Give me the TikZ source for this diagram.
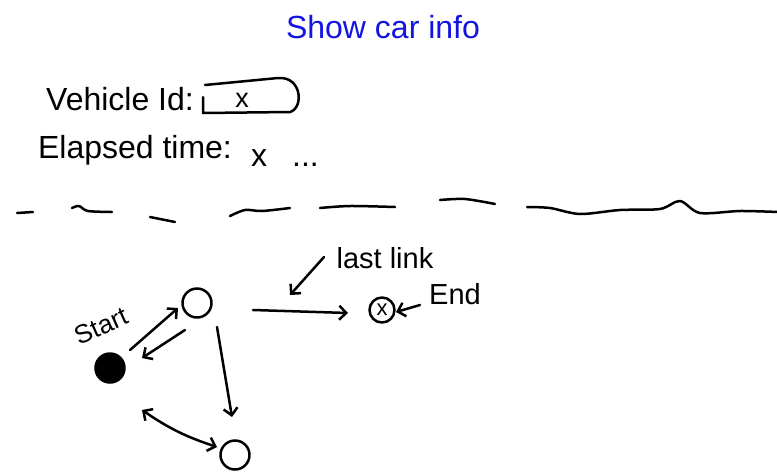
\documentclass[tikz,border=0pt]{standalone}
\usepackage{fontspec}
\setmainfont{Liberation Sans}
\usetikzlibrary{arrows.meta,calc}
\definecolor{penblue}{RGB}{20,20,225}
\begin{document}
\begin{tikzpicture}[x=1pt,y=-1pt,line cap=round,line join=round,
  pen/.style={line width=2.5pt},
  arr/.style={pen,-{Straight Barb[length=7pt,width=14pt]}},
  darr/.style={pen,{Straight Barb[length=7pt,width=14pt]}-{Straight Barb[length=7pt,width=14pt]}},
  state/.style={circle,draw,pen,minimum size=29pt,inner sep=0pt},
  big/.style={inner sep=0pt,font=\fontsize{32}{36}\selectfont},
  lbl/.style={inner sep=0pt,font=\fontsize{29}{32}\selectfont}]
\useasboundingbox (0,0) rectangle (777,472);

% header texts
\node[big,text=penblue] (title) at (383,27) {Show car info};
\node[big] (vid) at (120,99) {Vehicle Id:};
\node[big,font=\fontsize{27}{30}\selectfont] (vx) at (242,100) {x};
\draw[pen] (205,85) -- (278,78) .. controls (302,76) and (304,108) .. (290,112) -- (203,113) -- (203,97);
\node[big] (et) at (135,150) {Elapsed time:};
\node[big] (ex) at (259,158) {x};
\node[big,anchor=base west] (edots) at (292,166) {...};

% separator
\draw[pen] (17,213) -- (33,212);
\draw[pen] plot[smooth] coordinates {(72,208) (79,206) (88,211) (112,212)};
\draw[pen] (150,217) -- (175,222);
\draw[pen] plot[smooth] coordinates {(230,216) (245,210) (262,211) (290,208)};
\draw[pen] plot[smooth] coordinates {(320,208) (350,206) (395,207)};
\draw[pen] plot[smooth] coordinates {(440,200) (465,199) (495,204)};
\draw[pen] plot[smooth] coordinates {(527,207) (550,208) (580,214) (620,210) (660,209) (680,201) (700,213) (740,211) (778,212)};

% states
\node[state] (s1) at (197,303) {};
\node[state,fill=black] (st) at (110,368) {};
\node[state] (s2) at (235,455) {};
\node[state,minimum size=25pt,font=\fontsize{22}{24}\selectfont] (en) at (382,310) {x};

% labels
\node[lbl,rotate=24,font=\fontsize{26}{28}\selectfont] (stl) at (101,326) {Start};
\node[lbl] (ll) at (385,258) {last link};
\node[lbl] (endt) at (455,294) {End};

% connectors
\draw[arr] ($(st)+(20,-18)$) -- ($(s1)+(-19,5)$);
\draw[arr] ($(s1)+(-12,27)$) -- ($(st)+(32,-10)$);
\draw[arr] ($(s1)+(20,24)$) -- ($(s2)+(-3,-38)$);
\draw[darr] ($(st)+(32,42)$) to[bend right=8] ($(s2)+(-18,-8)$);
\draw[arr] ($(s1)+(56,7)$) -- ($(en)+(-34,3)$);
\coordinate (lltip) at (290,295);
\draw[arr] ($(ll)+(-61,-1)$) -- (lltip);
\draw[arr] ($(endt)+(-35,11)$) -- ($(en)+(14,2)$);
\end{tikzpicture}
\end{document}
